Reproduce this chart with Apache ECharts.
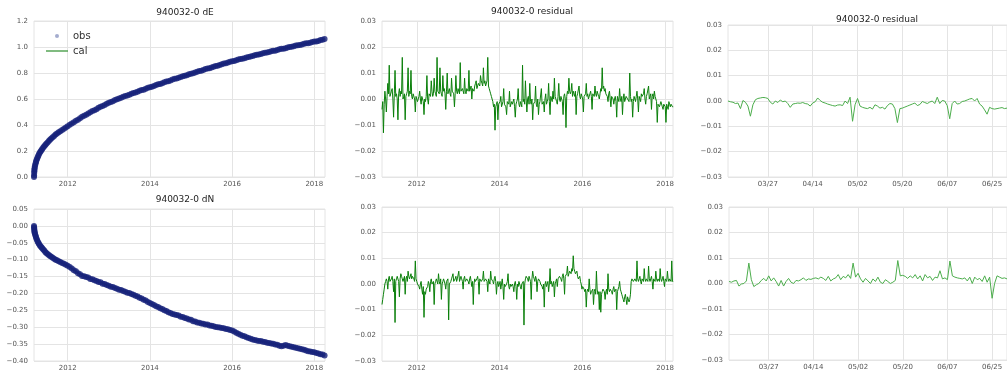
<!DOCTYPE html>
<html>
<head>
<meta charset="utf-8">
<script src="https://cdn.jsdelivr.net/npm/echarts@6/dist/echarts.min.js"></script>
<style>html,body{margin:0;padding:0;background:#fff}#chart{width:1007px;height:372px}</style>
</head>
<body>
<div id="chart"></div>
<script>
// trend panels (decimal years): early obs listed one by one, then one obs every obsStepYears
const obsEarlyYears = [
  2011.18, 2011.182, 2011.185, 2011.188, 2011.19, 2011.195, 2011.20, 2011.21, 2011.22, 2011.23,
  2011.24, 2011.255, 2011.27, 2011.285, 2011.30, 2011.32, 2011.34, 2011.36, 2011.38, 2011.405,
  2011.43, 2011.455, 2011.48, 2011.51, 2011.54, 2011.57, 2011.60, 2011.635, 2011.67, 2011.705,
  2011.74, 2011.78, 2011.82, 2011.865, 2011.91, 2011.955
]
const dEObsEarly = [
  0.000, 0.012, 0.030, 0.044, 0.055, 0.068, 0.080, 0.093, 0.105, 0.117,
  0.128, 0.140, 0.152, 0.164, 0.175, 0.186, 0.196, 0.206, 0.215, 0.226,
  0.236, 0.246, 0.256, 0.266, 0.276, 0.286, 0.296, 0.306, 0.316, 0.326,
  0.335, 0.344, 0.352, 0.362, 0.371, 0.381
]
const dNObsEarly = [
  0.000, -0.004, -0.008, -0.012, -0.015, -0.019, -0.022, -0.026, -0.030, -0.034,
  -0.038, -0.042, -0.046, -0.050, -0.053, -0.057, -0.060, -0.063, -0.066, -0.070,
  -0.073, -0.077, -0.080, -0.083, -0.086, -0.089, -0.091, -0.094, -0.097, -0.100,
  -0.102, -0.105, -0.107, -0.110, -0.112, -0.115
]
const obsStartYear = 2012.0
const obsStepYears = 0.05
const dEObs = [
  0.390, 0.401, 0.411, 0.421, 0.433, 0.440, 0.451, 0.463, 0.472, 0.479, 0.488, 0.499, 0.507, 0.513, 0.522, 0.532, 0.540, 0.546, 0.554, 0.564,
  0.571, 0.576, 0.583, 0.592, 0.598, 0.603, 0.609, 0.617, 0.623, 0.627, 0.633, 0.641, 0.647, 0.650, 0.656, 0.664, 0.669, 0.672, 0.678, 0.686,
  0.691, 0.695, 0.700, 0.708, 0.713, 0.716, 0.721, 0.729, 0.734, 0.737, 0.742, 0.750, 0.755, 0.758, 0.763, 0.770, 0.775, 0.778, 0.783, 0.790,
  0.795, 0.798, 0.803, 0.810, 0.815, 0.818, 0.823, 0.830, 0.834, 0.837, 0.842, 0.849, 0.854, 0.856, 0.861, 0.868, 0.873, 0.875, 0.880, 0.887,
  0.891, 0.893, 0.898, 0.904, 0.908, 0.910, 0.914, 0.920, 0.924, 0.926, 0.930, 0.936, 0.940, 0.942, 0.946, 0.952, 0.956, 0.957, 0.961, 0.967,
  0.971, 0.972, 0.976, 0.982, 0.986, 0.987, 0.991, 0.997, 1.000, 1.001, 1.005, 1.011, 1.014, 1.015, 1.019, 1.025, 1.028, 1.029, 1.033, 1.039,
  1.042, 1.043, 1.047, 1.053, 1.056, 1.061
]
const dNObs = [
  -0.118, -0.122, -0.126, -0.131, -0.134, -0.140, -0.143, -0.148, -0.149, -0.151, -0.153, -0.157, -0.158, -0.161, -0.163, -0.166, -0.167, -0.171, -0.172, -0.175,
  -0.177, -0.180, -0.181, -0.184, -0.186, -0.189, -0.190, -0.193, -0.195, -0.198, -0.199, -0.202, -0.204, -0.207, -0.209, -0.213, -0.215, -0.219, -0.221, -0.225,
  -0.228, -0.231, -0.234, -0.238, -0.240, -0.244, -0.246, -0.250, -0.252, -0.256, -0.258, -0.261, -0.262, -0.264, -0.265, -0.269, -0.270, -0.273, -0.274, -0.277,
  -0.278, -0.282, -0.283, -0.286, -0.287, -0.289, -0.290, -0.292, -0.292, -0.295, -0.296, -0.297, -0.299, -0.300, -0.301, -0.302, -0.303, -0.305, -0.306, -0.308,
  -0.310, -0.313, -0.316, -0.319, -0.322, -0.325, -0.327, -0.330, -0.332, -0.334, -0.336, -0.338, -0.339, -0.341, -0.341, -0.343, -0.344, -0.346, -0.347, -0.348,
  -0.349, -0.351, -0.352, -0.355, -0.356, -0.355, -0.353, -0.355, -0.356, -0.358, -0.359, -0.361, -0.362, -0.364, -0.365, -0.367, -0.369, -0.371, -0.372, -0.373,
  -0.374, -0.376, -0.378, -0.380, -0.381, -0.384
]
// calibrated model curve
const calYears = [
  2011.18, 2011.185, 2011.19, 2011.20, 2011.22, 2011.24, 2011.27, 2011.30, 2011.34, 2011.38,
  2011.43, 2011.48, 2011.54, 2011.60, 2011.67, 2011.74, 2011.82, 2011.91,
  2012.0, 2012.25, 2012.5, 2012.75, 2013.0, 2013.25, 2013.5, 2013.75, 2014.0, 2014.25, 2014.5, 2014.75,
  2015.0, 2015.25, 2015.5, 2015.75, 2016.0, 2016.25, 2016.5, 2016.75, 2017.0, 2017.25, 2017.5, 2017.75,
  2018.0, 2018.25
]
const dECal = [
  0.000, 0.030, 0.055, 0.080, 0.105, 0.128, 0.152, 0.175, 0.196, 0.215,
  0.236, 0.256, 0.276, 0.296, 0.316, 0.335, 0.352, 0.371,
  0.390, 0.442, 0.489, 0.531, 0.570, 0.604, 0.634, 0.663, 0.690, 0.717, 0.743, 0.769,
  0.794, 0.819, 0.843, 0.867, 0.890, 0.910, 0.930, 0.950, 0.970, 0.988, 1.006, 1.024,
  1.041, 1.060
]
const dNCal = [
  0.000, -0.008, -0.015, -0.022, -0.030, -0.038, -0.046, -0.053, -0.060, -0.066,
  -0.073, -0.080, -0.086, -0.091, -0.097, -0.102, -0.107, -0.112,
  -0.118, -0.139, -0.153, -0.165, -0.177, -0.188, -0.199, -0.212, -0.228, -0.243, -0.258, -0.268,
  -0.278, -0.289, -0.296, -0.303, -0.310, -0.325, -0.336, -0.343, -0.349, -0.355, -0.359, -0.367,
  -0.374, -0.384
]
const yearTicks = [2012, 2014, 2016, 2018]

// residuals over the whole record in mm, one value every residStepYears
const residStartYear = 2011.16
const residStepYears = 0.0175
const dEResidMm = [
  -4, -1, -13, -2, 3, 0, -5, 1, 6, 2, 13, 1, 1, 3, 4, 0, -7, 2, 11, 1,
  2, 0, -8, 2, 4, 1, 3, 2, 16, 0, 1, 2, -8, 1, 2, 3, 12, 1, 3, 2,
  11, 1, 0, 2, 2, 0, -5, 1, 1, -1, 0, 1, 3, 0, -2, 1, 1, -1, -6, 0,
  -1, 1, 9, 0, -2, 2, 2, 1, 7, 3, 1, 2, 8, 3, 2, 1, 16, 3, 3, 2,
  12, 3, 2, 1, 9, 3, 4, 2, -4, 3, 10, 2, 3, 4, 2, 1, 8, 3, 3, 2,
  -3, 2, 9, 3, 2, 4, 4, 2, 14, 3, 3, 4, 4, 2, 8, 3, 2, 4, 4, 3,
  11, 3, 3, 5, 0, 4, 4, 3, 5, 6, 7, 4, 4, 6, 6, 5, 9, 7, 6, 5,
  12, 6, 7, 5, 5, 7, 16, 5, 4, 3, 2, 1, 0, -1, -3, -2, -12, -3, -2, -1,
  -8, -2, -2, -1, 1, -3, -3, -1, 4, -2, -2, -3, -6, -1, -1, -2, 3, -3, -3, -1,
  -2, -1, 0, -3, -7, -2, -1, 0, 4, -2, -3, -1, -2, -3, 13, -1, 0, -2, 7, 0,
  -5, 0, 1, -2, 6, -1, -2, 0, -8, -2, -2, -1, 5, -2, -3, 0, -6, -2, -1, -1,
  4, -2, -2, -1, -5, 0, 2, -2, -1, 0, 6, -1, -6, 1, 0, -1, 3, 0, 8, 1,
  0, -1, -2, 1, 6, 0, -1, 1, 1, -1, -6, 1, 2, 0, -11, 1, 3, 2, 8, 3,
  2, 3, 6, 1, 3, 2, 1, 3, -6, 1, 2, 2, 5, 1, 0, 2, 2, 0, -5, 1,
  1, 2, 6, 1, 2, 0, 0, 2, 3, 1, -4, 2, 2, 1, 5, 2, 1, 3, 3, 1,
  0, 2, 4, 3, 12, 4, 5, 3, 4, 2, 2, 1, -1, 2, 3, 0, -3, 1, 1, 0,
  -2, 0, 1, -1, -7, 1, 0, -1, 4, 0, -1, 1, -6, 0, 2, -1, -1, 1, 1, 0,
  0, -1, 10, 1, -1, 0, -7, -1, 1, 0, -1, 1, 3, 0, -5, 1, 0, -1, 2, 1,
  1, 2, 4, 0, -2, 1, 2, 2, 5, 0, 1, 2, -4, 1, 2, 0, 3, 1, 0, -1,
  -9, -2, -2, -3, -3, -1, -1, -3, -4, -2, -2, -3, -9, -2, -3, -4, -1, -2, -3, -2,
  -2, -3, -3
]
const dNResidMm = [
  -8, -6, -4, -2, 0, 1, 2, 1, -2, 2, 3, 1, 1, 2, 3, 1, -3, 2, -15, 1,
  2, 3, 3, 1, -5, 2, 4, 3, 2, 1, 1, 3, -4, 2, 3, 1, 5, 3, 2, 2,
  4, 2, 3, 3, 2, 1, 9, 2, 1, 0, 0, -1, -2, 0, 1, -2, -4, -1, -13, -3,
  -4, -2, -2, -1, 1, 0, -3, 1, 2, 0, 0, 1, -8, 0, 1, 2, 2, 0, 4, 1,
  0, 2, -6, 0, 1, 2, 2, 0, -2, 1, 1, 2, -14, 0, 0, 1, 2, 2, 4, 1,
  1, 2, 3, 1, 2, 2, 5, 1, 1, 3, 2, 1, -2, 2, 3, 1, 1, 2, 2, 1,
  0, 2, 3, 1, -1, 1, -8, 0, 2, 1, 1, 2, 3, 1, -4, 2, 2, 1, 1, 2,
  5, 1, 1, 2, 2, 1, -3, 2, 1, 0, 5, 2, 2, 1, 0, 2, 3, 1, -4, 0,
  1, -1, 0, 1, -2, 0, 2, -1, -6, 0, -1, -1, 0, 1, 4, -1, -2, 0, -1, -1,
  0, -1, -3, 0, 1, -1, -6, 0, -1, 1, 1, -1, -2, 0, 0, 1, -16, 0, 2, 3,
  3, 2, 1, 3, 2, 1, -6, 2, 5, 3, 2, 1, 3, 2, -3, 1, 2, 2, 1, 0,
  0, -1, -2, 0, -9, 0, 1, -1, 0, 1, -3, 0, 6, 0, 1, -1, 0, 1, -5, 0,
  1, 2, -1, 2, 2, 3, 3, 2, 1, 3, 4, 2, -4, 3, 3, 4, 7, 3, 4, 5,
  5, 4, 6, 5, 11, 6, 5, 4, 4, 5, 3, 2, 2, 3, 1, 0, -2, -1, -1, -2,
  -3, -2, -9, -3, -2, -3, 2, -2, -4, -3, -3, -2, -8, -3, -2, -4, 5, -2, -4, -3,
  -10, -3, -11, -4, -3, -2, -2, -3, -6, -3, -2, -4, 4, -2, -3, -2, -2, -3, -4, -2,
  -1, -3, -3, -2, -10, -3, -2, -1, 1, -2, -3, -4, -5, -6, -7, -5, -4, -6, -8, -5,
  -5, -7, -6, -4, 1, 2, 2, 1, 1, 2, 2, 1, 9, 2, 1, 2, 3, 1, 0, 2,
  2, 1, 6, 2, 1, 2, 2, 1, 7, 2, 1, 2, 3, 1, -2, 2, 2, 1, 5, 2,
  1, 2, 2, 1, 6, 2, 1, 2, 3, 1, -1, 2, 2, 1, 5, 2, 1, 2, 2, 1,
  9, 1, 1
]

// daily residuals in mm, first value is day-of-year 70 (03/11)
const zoomStartDay = 70
const dEResidZoomMm = [
  0.0, -0.3, -0.5, -1.0, -0.8, -3.0, 0.2, -0.5, -2.0, -6.0,
  -1.5, 0.5, 1.0, 1.2, 1.4, 1.3, 1.0, -0.5, -1.2, 0.0,
  -0.6, 0.4, -0.3, 0.0, -1.0, -2.5, -1.2, -1.0, -0.8, -0.9,
  -0.6, -1.0, -1.2, -2.0, -0.8, -0.3, 1.2, 0.2, -0.5, -0.8,
  -1.2, -1.5, -1.8, -2.0, -1.6, -1.5, -1.8, 0.0, -1.0, 1.5,
  -8.0, -1.5, 1.0, -2.0, -2.5, -2.8, -3.0, -2.5, -3.2, -1.5,
  -2.0, -2.8, -2.5, -3.2, -1.8, -1.0, -1.2, -3.0, -8.5, -3.0,
  -2.8, -2.4, -2.0, -1.6, -1.2, -0.8, -1.8, -1.4, -0.2, -0.6,
  -1.0, -0.4, 0.0, -1.0, 1.5, -1.0, 0.2, 0.0, -1.8, -7.0,
  -1.0, 0.0, -1.2, -1.0, -0.2, 0.0, 0.4, 0.8, 1.0, 0.0,
  1.0, -1.2, -2.0, -3.5, -5.2, -2.5, -3.0, -3.2, -3.0, -2.8,
  -2.6, -3.0, -2.8
]
const dNResidZoomMm = [
  0.8, 0.5, 1.0, 1.2, -1.0, -0.2, 0.0, 1.0, 8.0, 1.5,
  -1.2, -0.5, 0.0, 1.2, 2.0, 1.0, 3.0, 1.0, 2.2, 0.8,
  -1.0, 1.2, -1.0, 0.8, 2.0, 0.5, 0.0, 1.2, 1.0, 1.5,
  2.2, 1.2, 1.8, 1.6, 2.0, 2.2, 1.8, 2.5, 2.0, 1.2,
  2.8, 1.0, 1.8, 2.2, 3.5, 1.5, 2.8, 2.2, 3.5, 2.0,
  8.0, 2.5, 4.0, 1.8, 0.5, 2.0, 1.0, 0.0, 1.8, 0.8,
  2.5, 0.5, 0.0, 1.5, 0.8, 0.0, 0.5, 1.2, 9.0, 3.0,
  3.2, 2.8, 2.0, 3.0, 2.2, 3.5, 1.8, 3.0, 1.0, 3.5,
  2.2, 2.8, 1.2, 2.5, 2.2, 5.0, 1.8, 2.2, 1.5, 8.8,
  3.0, 2.5, 2.2, 2.0, 1.8, 2.2, 1.0, 2.5, 0.0, 2.5,
  1.5, 2.0, 0.8, 3.0, 0.5, 2.5, -5.8, 0.0, 3.0, 2.5,
  2.0, 2.2, 1.8
]
const dayTicks = [86, 104, 122, 140, 158, 176]
const dayTickLabels = ['03/27', '04/14', '05/02', '05/20', '06/07', '06/25']

const font = 'DejaVu Sans'
const gridColor = '#e4e4e4'
const labelStyle = { color: '#555', fontSize: 7, fontFamily: font }

function fmt(v, digits) {
  return (v < -1e-9 ? '\u2212' : '') + Math.abs(v).toFixed(digits)
}

function valueYAxis(gridIndex, min, max, interval, digits) {
  return {
    type: 'value', gridIndex, min, max, interval,
    axisLine: { show: false }, axisTick: { show: false },
    splitLine: { lineStyle: { color: gridColor, width: 1 } },
    axisLabel: { ...labelStyle, margin: 6, formatter: v => fmt(v, digits) }
  }
}

function tickXAxis(gridIndex, min, max, ticks, formatter) {
  return {
    type: 'value', gridIndex, min, max,
    axisLine: { show: false },
    axisTick: { show: false, customValues: ticks },
    splitLine: { show: true, lineStyle: { color: gridColor, width: 1 } },
    axisLabel: { ...labelStyle, margin: 4, customValues: ticks, formatter }
  }
}

const yearLabel = v => String(Math.round(v))
const dayLabel = v => dayTickLabels[dayTicks.indexOf(Math.round(v))] || ''

const pairs = (xs, ys) => ys.map((y, i) => [xs[i], y])
const obsPairs = (earlyYs, ys) => pairs(obsEarlyYears, earlyYs).concat(ys.map((y, i) => [obsStartYear + i * obsStepYears, y]))
const residPairs = mm => mm.map((v, i) => [residStartYear + i * residStepYears, v / 1000])
const dayPairs = mm => mm.map((v, i) => [zoomStartDay + i, v / 1000])

const gridBase = { show: true, borderColor: gridColor, borderWidth: 1, backgroundColor: 'transparent' }
const titleStyle = { fontSize: 9, fontWeight: 'normal', color: '#222', fontFamily: font }
const obsColor = '#17227a'
const calColor = '#4a9e4a'

const chart = echarts.init(document.getElementById('chart'))
chart.setOption({
  animation: false,
  backgroundColor: '#fff',
  title: [
    { text: '940032-0 dE', left: 180, top: 3, textAlign: 'center', textStyle: titleStyle },
    { text: '940032-0 dN', left: 180, top: 190, textAlign: 'center', textStyle: titleStyle },
    { text: '940032-0 residual', left: 527, top: 2, textAlign: 'center', textStyle: titleStyle },
    { text: '940032-0 residual', left: 872, top: 10, textAlign: 'center', textStyle: titleStyle }
  ],
  legend: {
    orient: 'vertical', left: 41, top: 26, itemWidth: 22, itemHeight: 4, itemGap: 5,
    textStyle: { fontSize: 10, color: '#333', fontFamily: font },
    data: [
      { name: 'obs', icon: 'circle', itemStyle: { color: '#8d97c2' } },
      { name: 'cal', icon: 'path://M0,0H22V1.4H0Z', itemStyle: { color: calColor } }
    ]
  },
  grid: [
    { ...gridBase, left: 34, top: 21, width: 291, height: 156 },
    { ...gridBase, left: 34, top: 209, width: 291, height: 155 },
    { ...gridBase, left: 382, top: 21, width: 291, height: 156 },
    { ...gridBase, left: 382, top: 207, width: 291, height: 157 },
    { ...gridBase, left: 728, top: 25, width: 288, height: 152 },
    { ...gridBase, left: 729, top: 207, width: 286, height: 153 }
  ],
  xAxis: [
    tickXAxis(0, 2011.18, 2018.26, yearTicks, yearLabel),
    tickXAxis(1, 2011.18, 2018.26, yearTicks, yearLabel),
    tickXAxis(2, 2011.16, 2018.19, yearTicks, yearLabel),
    tickXAxis(3, 2011.16, 2018.19, yearTicks, yearLabel),
    tickXAxis(4, 70, 182, dayTicks, dayLabel),
    tickXAxis(5, 70, 182, dayTicks, dayLabel)
  ],
  yAxis: [
    valueYAxis(0, 0, 1.2, 0.2, 1),
    valueYAxis(1, -0.4, 0.05, 0.05, 2),
    valueYAxis(2, -0.03, 0.03, 0.01, 2),
    valueYAxis(3, -0.03, 0.03, 0.01, 2),
    valueYAxis(4, -0.03, 0.03, 0.01, 2),
    valueYAxis(5, -0.03, 0.03, 0.01, 2)
  ],
  series: [
    { name: 'cal', type: 'line', xAxisIndex: 0, yAxisIndex: 0, data: pairs(calYears, dECal), symbol: 'none', z: 1,
      lineStyle: { color: calColor, width: 1.5 }, itemStyle: { color: calColor } },
    { name: 'obs', type: 'scatter', xAxisIndex: 0, yAxisIndex: 0, data: obsPairs(dEObsEarly, dEObs), symbolSize: 6, z: 2,
      itemStyle: { color: obsColor } },
    { name: 'cal', type: 'line', xAxisIndex: 1, yAxisIndex: 1, data: pairs(calYears, dNCal), symbol: 'none', z: 1,
      lineStyle: { color: calColor, width: 1.5 }, itemStyle: { color: calColor } },
    { name: 'obs', type: 'scatter', xAxisIndex: 1, yAxisIndex: 1, data: obsPairs(dNObsEarly, dNObs), symbolSize: 6, z: 2,
      itemStyle: { color: obsColor } },
    { type: 'line', xAxisIndex: 2, yAxisIndex: 2, data: residPairs(dEResidMm), symbol: 'none',
      lineStyle: { color: '#0a7f0a', width: 1 } },
    { type: 'line', xAxisIndex: 3, yAxisIndex: 3, data: residPairs(dNResidMm), symbol: 'none',
      lineStyle: { color: '#0a7f0a', width: 1 } },
    { type: 'line', xAxisIndex: 4, yAxisIndex: 4, data: dayPairs(dEResidZoomMm), symbol: 'none',
      lineStyle: { color: '#4cad4c', width: 1 } },
    { type: 'line', xAxisIndex: 5, yAxisIndex: 5, data: dayPairs(dNResidZoomMm), symbol: 'none',
      lineStyle: { color: '#4cad4c', width: 1 } }
  ]
})
</script>
</body>
</html>
